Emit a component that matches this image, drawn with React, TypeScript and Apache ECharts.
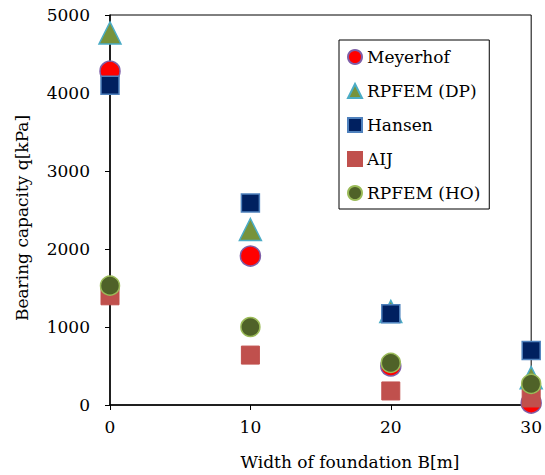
import React, { useEffect, useRef } from "react";
import * as echarts from "echarts";

const widths = [0, 10, 20, 30];
const meyerhof = [4280, 1910, 500, 25];
const rpfemDP = [4770, 2250, 1200, 350];
const hansen = [4100, 2590, 1170, 700];
const aij = [1400, 640, 180, 90];
const rpfemHO = [1530, 1000, 540, 270];

const xTitle = "Width of foundation B[m]";
const yTitle = "Bearing capacity q[kPa]";

const FONT = "DejaVu Serif";
const FS = 17;

export default function App() {
  const ref = useRef<HTMLDivElement>(null);
  useEffect(() => {
    if (!ref.current) return;
    const chart = echarts.init(ref.current, undefined, { renderer: "svg" });
    const pts = (arr: number[]) => widths.map((w, i) => [w, arr[i]]);
    const mk = (
      name: string,
      data: number[],
      symbol: string,
      size: number,
      fill: string,
      border: string,
      bw: number
    ) => ({
      name,
      type: "scatter",
      data: pts(data),
      symbol,
      symbolSize: size,
      clip: false,
      itemStyle: { color: fill, borderColor: border, borderWidth: bw, opacity: 1 },
    });
    chart.setOption({
      animation: false,
      backgroundColor: "#fff",
      textStyle: { fontFamily: FONT, color: "#000" },
      grid: {
        left: 110,
        right: 12,
        top: 15,
        bottom: 70,
        show: true,
        borderColor: "#000",
        borderWidth: 1,
      },
      xAxis: {
        type: "value",
        min: 0,
        max: 30,
        interval: 10,
        splitLine: { show: false },
        axisLine: { show: true, onZero: false, lineStyle: { color: "#000", width: 1.5 } },
        axisTick: { show: true, inside: false, length: 5, lineStyle: { color: "#000" } },
        axisLabel: {
          margin: 13,
          fontSize: FS,
          fontFamily: FONT,
          color: "#000",
          formatter: (v: number) => String(v),
        },
      },
      yAxis: {
        type: "value",
        min: 0,
        max: 5000,
        interval: 1000,
        splitLine: { show: false },
        axisLine: { show: true, onZero: false, lineStyle: { color: "#000", width: 1.5 } },
        axisTick: { show: true, inside: false, length: 5, lineStyle: { color: "#000" } },
        axisLabel: {
          margin: 20,
          fontSize: FS,
          fontFamily: FONT,
          color: "#000",
          formatter: (v: number) => String(v),
        },
      },
      legend: {
        orient: "vertical",
        left: 339,
        top: 40,
        padding: [7, 9, 6, 8],
        itemGap: 14,
        itemWidth: 14,
        itemHeight: 14,
        borderColor: "#000",
        borderWidth: 1,
        backgroundColor: "#fff",
        textStyle: { fontSize: FS, fontFamily: FONT, color: "#000", lineHeight: 20 },
        data: ["Meyerhof", "RPFEM (DP)", "Hansen", "AIJ", "RPFEM (HO)"],
      },
      graphic: [
        {
          type: "text",
          x: 350,
          y: 462,
          style: {
            text: xTitle,
            fontSize: FS,
            fontFamily: FONT,
            fill: "#000",
            textAlign: "center",
            textVerticalAlign: "middle",
          },
        },
        {
          type: "text",
          x: 22,
          y: 218,
          rotation: Math.PI / 2,
          style: {
            text: yTitle,
            fontSize: FS,
            fontFamily: FONT,
            fill: "#000",
            textAlign: "center",
            textVerticalAlign: "middle",
          },
        },
      ],
      series: [
        mk("Meyerhof", meyerhof, "circle", 20, "#FF0000", "#7F5FA8", 1.5),
        mk("RPFEM (DP)", rpfemDP, "triangle", 22, "#77933C", "#4BACC6", 1.5),
        mk("Hansen", hansen, "rect", 18, "#002060", "#4F81BD", 1.5),
        mk("AIJ", aij, "rect", 18, "#C0504D", "#C0504D", 1),
        mk("RPFEM (HO)", rpfemHO, "circle", 19, "#4F6228", "#9BBB59", 1.5),
      ],
    });
    return () => chart.dispose();
  }, []);
  return (
    <div
      ref={ref}
      style={{ position: "fixed", left: 0, top: 0, width: 545, height: 475 }}
    />
  );
}
